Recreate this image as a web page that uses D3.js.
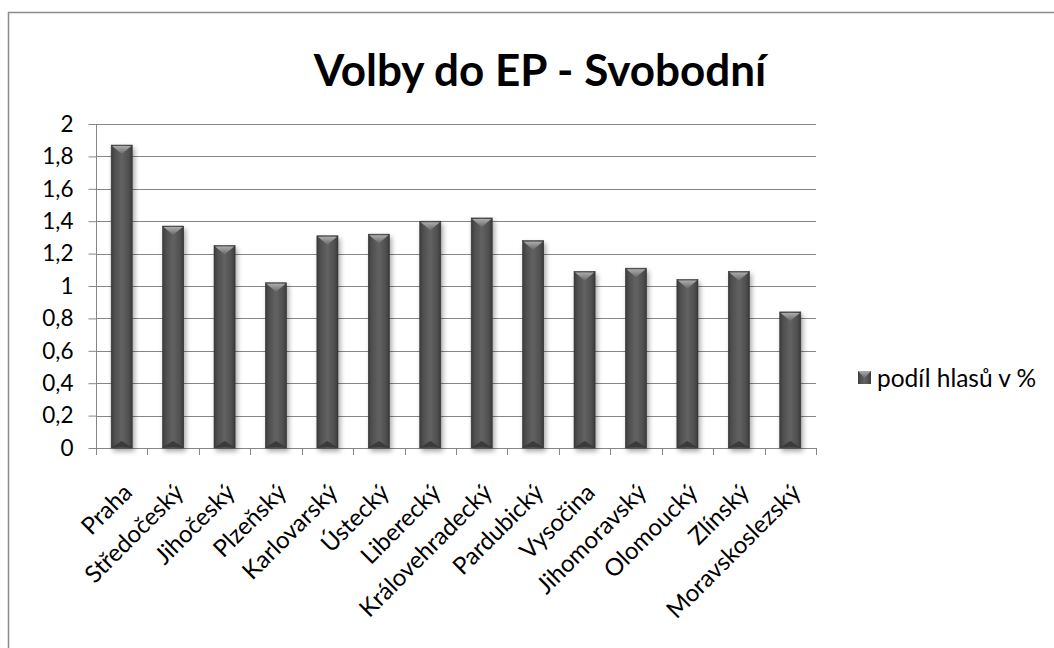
<!DOCTYPE html>
<html><head><meta charset="utf-8">
<script src="https://cdn.jsdelivr.net/npm/d3@7"></script>
<style>html,body{margin:0;padding:0;background:#fff;overflow:hidden}</style>
</head><body>
<svg id="c" width="1054" height="648"></svg>
<script>
const categories = ["Praha","Středočeský","Jihočeský","Plzeňský","Karlovarský","Ústecký","Liberecký","Královehradecký","Pardubický","Vysočina","Jihomoravský","Olomoucký","Zlínský","Moravskoslezský"];
const values = [1.87,1.37,1.25,1.02,1.31,1.32,1.40,1.42,1.28,1.09,1.11,1.04,1.09,0.84];
const yTicks = [0,0.2,0.4,0.6,0.8,1,1.2,1.4,1.6,1.8,2];
const seriesName = "podíl hlasů v %";
const title = "Volby do EP - Svobodní";

const svg = d3.select("#c");
const font = "Lato, 'Open Sans', sans-serif";
const pL = 96, pR = 816, pT = 124, pB = 448;

const defs = svg.append("defs");
const g1 = defs.append("linearGradient").attr("id","barg").attr("x1","0").attr("x2","1").attr("y1","0").attr("y2","0");
[[0,"#3a3a3a"],[0.15,"#4e4e4e"],[0.5,"#626262"],[0.85,"#4e4e4e"],[1,"#383838"]].forEach(s=>g1.append("stop").attr("offset",s[0]).attr("stop-color",s[1]));
const g2 = defs.append("linearGradient").attr("id","capg").attr("x1","0").attr("x2","0").attr("y1","0").attr("y2","1");
[[0,"#acacac"],[1,"#6a6a6a"]].forEach(s=>g2.append("stop").attr("offset",s[0]).attr("stop-color",s[1]));
const f = defs.append("filter").attr("id","sh").attr("x","-50%").attr("y","-10%").attr("width","200%").attr("height","130%");
f.append("feDropShadow").attr("dx",2).attr("dy",3).attr("stdDeviation",2.5).attr("flood-color","#000").attr("flood-opacity",0.35);

// border
svg.append("rect").attr("x",8.5).attr("y",12.5).attr("width",1200).attr("height",800)
  .attr("fill","none").attr("stroke","#8c8c8c").attr("stroke-width",1.5);

const x = d3.scaleBand().domain(categories).range([pL,pR]).paddingInner(0.59).paddingOuter(0.295);
const xb = d3.scaleBand().domain(categories).range([pL,pR]);
const y = d3.scaleLinear().domain([0,2]).range([pB,pT]);

// gridlines
svg.append("g").selectAll("line").data(yTicks.filter(d=>d>0)).join("line")
  .attr("x1",pL).attr("x2",pR).attr("y1",d=>Math.round(y(d))+0.5).attr("y2",d=>Math.round(y(d))+0.5)
  .attr("stroke","#868686").attr("stroke-width",1);

// y axis
const ya = svg.append("g").attr("transform",`translate(${pL+0.5},0)`)
  .call(d3.axisLeft(y).tickValues(yTicks).tickSize(8).tickPadding(15).tickFormat(d=>String(d).replace(".",",")));
ya.select(".domain").attr("stroke","#868686").attr("d",`M0,${pT}V${pB}`);
ya.selectAll(".tick line").attr("stroke","#868686");
ya.selectAll(".tick text").attr("font-family",font).attr("font-size",22.5).attr("fill","#000");

// x axis
svg.append("line").attr("x1",pL).attr("x2",pR).attr("y1",pB+0.5).attr("y2",pB+0.5).attr("stroke","#868686");
svg.append("g").selectAll("line").data(categories.concat(["__end"])).join("line")
  .attr("x1",(d,i)=>Math.round(pL + i*xb.step())+0.5).attr("x2",(d,i)=>Math.round(pL + i*xb.step())+0.5)
  .attr("y1",pB).attr("y2",pB+7).attr("stroke","#868686");

// bars
const bars = svg.append("g").selectAll("g").data(categories).join("g").attr("filter","url(#sh)");
bars.append("rect").attr("x",d=>x(d)).attr("width",x.bandwidth())
  .attr("y",(d,i)=>y(values[i])).attr("height",(d,i)=>pB-y(values[i]))
  .attr("fill","url(#barg)").attr("stroke","#333").attr("stroke-width",0.6);
bars.append("path").attr("d",(d,i)=>{
  const x0=x(d)+1, x1=x(d)+x.bandwidth()-1, t=y(values[i])+1, h=8;
  return `M${x0},${t}L${x1},${t}L${(x0+x1)/2},${t+h}Z`;
}).attr("fill","url(#capg)");
bars.append("path").attr("d",(d,i)=>{
  const x0=x(d)+1, x1=x(d)+x.bandwidth()-1, b=pB-1, h=6;
  return `M${x0},${b}L${x1},${b}L${(x0+x1)/2},${b-h}Z`;
}).attr("fill","#3a3a3a");

// x labels
svg.append("g").selectAll("text").data(categories).join("text")
  .attr("transform",d=>`translate(${xb(d)+xb.bandwidth()/2+6},${pB+40}) rotate(-45)`)
  .attr("text-anchor","end").attr("dy","0.35em")
  .attr("font-family",font).attr("font-size",24).attr("fill","#000").text(d=>d);

// title
svg.append("text").attr("x",540).attr("y",86).attr("text-anchor","middle")
  .attr("font-family",font).attr("font-weight","bold").attr("font-size",44).attr("fill","#000").text(title);

// legend
svg.append("rect").attr("x",858).attr("y",371).attr("width",13).attr("height",13).attr("fill","url(#barg)");
svg.append("path").attr("d","M858,371L871,371L864.5,378Z").attr("fill","url(#capg)");
svg.append("text").attr("x",877).attr("y",378).attr("dy","0.35em")
  .attr("font-family",font).attr("font-size",24.5).attr("fill","#000").text(seriesName);
</script>
</body></html>
